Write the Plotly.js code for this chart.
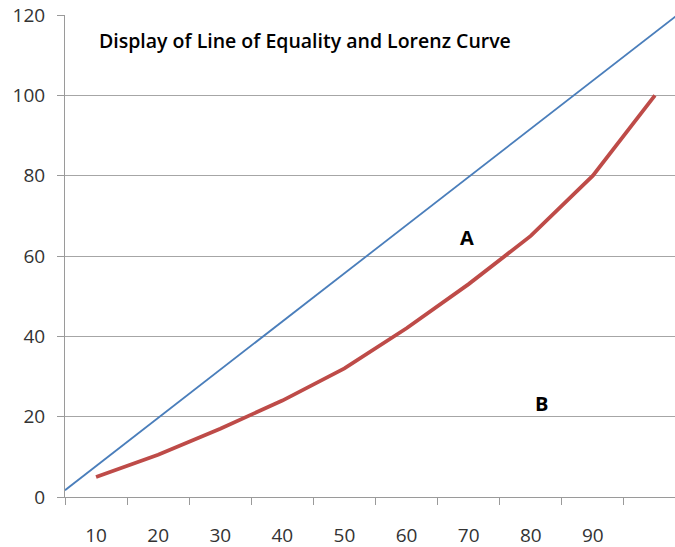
<!DOCTYPE html>
<html>
<head>
<meta charset="utf-8">
<script src="https://cdn.plot.ly/plotly-3.0.1.min.js"></script>
<style>html,body{margin:0;padding:0;background:#fff;overflow:hidden}#chart{width:675px;height:547px}</style>
</head>
<body>
<div id="chart"></div>
<script>
// Category labels (Excel-style category axis; last category unlabeled)
var categories = ['10', '20', '30', '40', '50', '60', '70', '80', '90', ''];
// Lorenz curve values, one per category
var lorenzValues = [5, 10.5, 17, 24, 32, 42, 53, 65, 80, 100];
// Line of equality endpoints (category-position, value)
var equalityX = [-0.5, 9.36];
var equalityY = [1.7, 120];
// Y axis ticks
var yTicks = [0, 20, 40, 60, 80, 100, 120];

var catIdx = categories.map(function (c, i) { return i; });
var boundaries = categories.map(function (c, i) { return i - 0.5; });
boundaries.push(categories.length - 0.5);

var traces = [
  {
    x: equalityX, y: equalityY, type: 'scatter', mode: 'lines',
    line: {color: '#4a7ebb', width: 1.8}, hoverinfo: 'skip', showlegend: false
  },
  {
    x: catIdx, y: lorenzValues, type: 'scatter', mode: 'lines',
    line: {color: '#be4b48', width: 3.8}, showlegend: false
  }
];

var layout = {
  width: 675, height: 547,
  margin: {l: 65, r: 0, t: 15, b: 50},
  paper_bgcolor: '#ffffff', plot_bgcolor: '#ffffff',
  showlegend: false,
  xaxis: {
    range: [-0.5, 9.323],
    tickmode: 'array', tickvals: catIdx.slice(0, 9), ticktext: categories.slice(0, 9),
    ticks: '', showgrid: false, zeroline: false,
    showline: true, linecolor: '#9a9a9a', linewidth: 1,
    ticklabelstandoff: 21,
    tickfont: {family: 'Open Sans, sans-serif', size: 19, color: '#333333'},
    minor: {tickmode: 'array', tickvals: boundaries, ticks: 'outside', ticklen: 7,
            tickcolor: '#9a9a9a', tickwidth: 1, showgrid: false},
    fixedrange: true
  },
  yaxis: {
    range: [0, 120], tickmode: 'array', tickvals: yTicks,
    ticks: 'outside', ticklen: 7, tickcolor: '#9a9a9a', tickwidth: 1,
    showgrid: true, gridcolor: '#a6a6a6', gridwidth: 1,
    zeroline: false, showline: true, linecolor: '#9a9a9a', linewidth: 1,
    ticklabelstandoff: 8,
    tickfont: {family: 'Open Sans, sans-serif', size: 19, color: '#333333'},
    fixedrange: true
  },
  annotations: [
    {xref: 'paper', yref: 'paper', x: 0.0525, y: 0.948, xanchor: 'left', yanchor: 'middle',
     text: 'Display of Line of Equality and Lorenz Curve', showarrow: false,
     font: {family: 'Open Sans, sans-serif', size: 19.5, color: '#000000', weight: 600}},
    {x: 5.973, y: 64.5, xref: 'x', yref: 'y', text: 'A', showarrow: false,
     font: {family: 'Open Sans, sans-serif', size: 20, color: '#000000', weight: 'bold'}},
    {x: 7.18, y: 23.2, xref: 'x', yref: 'y', text: 'B', showarrow: false,
     font: {family: 'Open Sans, sans-serif', size: 20, color: '#000000', weight: 'bold'}}
  ]
};

Plotly.newPlot('chart', traces, layout, {displayModeBar: false, staticPlot: true});
</script>
</body>
</html>
